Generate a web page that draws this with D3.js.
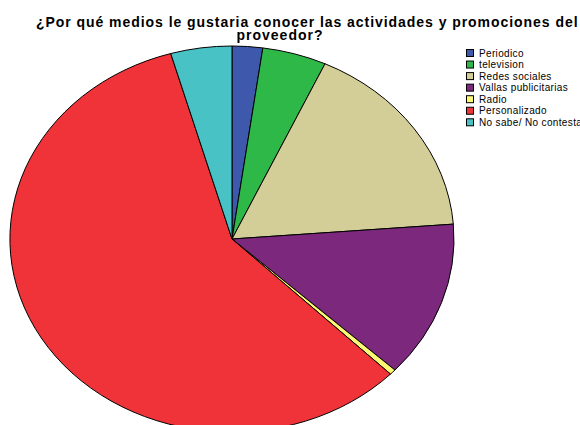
<!DOCTYPE html>
<html><head><meta charset="utf-8">
<script src="https://cdn.jsdelivr.net/npm/d3@7"></script>
<style>body{margin:0;background:#fff;} svg{display:block;}</style>
</head><body>
<svg id="c" width="580" height="425"></svg>
<script>
const categories = ["Periodico","television","Redes sociales","Vallas publicitarias","Radio","Personalizado","No sabe/ No contesta"];
const counts = [10,21,76,59,2,262,20];
const colors = ["#3E58AC","#2EB848","#D3CE97","#7C287D","#FBF873","#EF3338","#48C2C5"];
const titleLines = ["¿Por qué medios le gustaria conocer las actividades y promociones del","proveedor?"];

const svg = d3.select("#c");
const cx = 232, cy = 239, rx = 222, ry = 193;

const pie = d3.pie().sort(null).value(d => d)(counts);
const arc = d3.arc().innerRadius(0).outerRadius(1);

const g = svg.append("g").attr("transform", `translate(${cx},${cy}) scale(${rx},${ry})`);
g.selectAll("path").data(pie).enter().append("path")
  .attr("d", arc)
  .attr("fill", (d,i) => colors[i])
  .attr("stroke", "#000")
  .attr("stroke-width", 1)
  .attr("vector-effect", "non-scaling-stroke");

// Title
svg.append("text").attr("x", 36).attr("y", 27)
  .attr("font-family", "Liberation Sans, Arial, sans-serif").attr("font-weight", "bold")
  .attr("font-size", 14).attr("letter-spacing", "0.95px").attr("fill", "#000").text(titleLines[0]);
svg.append("text").attr("x", 280).attr("y", 40).attr("text-anchor", "middle")
  .attr("font-family", "Liberation Sans, Arial, sans-serif").attr("font-weight", "bold")
  .attr("font-size", 14).attr("letter-spacing", "1px").attr("fill", "#000").text(titleLines[1]);

// Legend
const lg = svg.append("g").attr("transform", "translate(466,49)");
const rows = lg.selectAll("g").data(categories).enter().append("g")
  .attr("transform", (d,i) => `translate(0,${i*11.55})`);
rows.append("rect").attr("x", 0.5).attr("y", 0.5).attr("width", 7).attr("height", 7)
  .attr("fill", (d,i) => colors[i]).attr("stroke", "#000").attr("stroke-width", 1);
rows.append("text").attr("x", 13).attr("y", 7.5)
  .attr("font-family", "Liberation Sans, Arial, sans-serif").attr("font-size", 10)
  .attr("letter-spacing", "0.35px").attr("fill", "#000").text(d => d);
</script>
</body></html>
